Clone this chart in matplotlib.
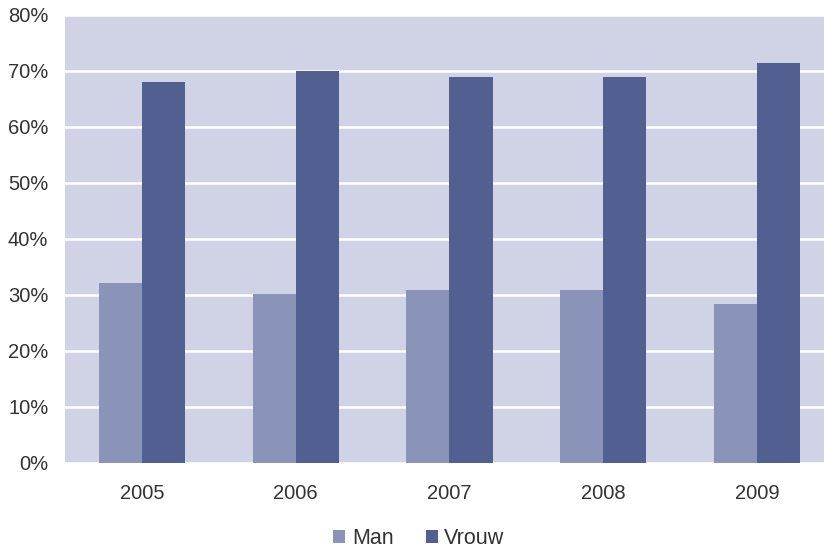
import matplotlib.pyplot as plt
import numpy as np

years = ['2005', '2006', '2007', '2008', '2009']
man = [32.1, 30.2, 30.9, 30.9, 28.4]
vrouw = [68.0, 70.0, 68.9, 68.9, 71.4]

plt.rcParams['font.family'] = ['Liberation Sans', 'DejaVu Sans']

fig = plt.figure(figsize=(8.24, 5.52), dpi=100)
# plot area runs slightly past the right edge of the image
ax = fig.add_axes([65 / 824, 1 - 463 / 552, 769 / 824, 448 / 552])
ax.set_facecolor('#D0D3E5')

x = np.arange(len(years))
w = 0.28
ax.bar(x - w / 2, man, w, color='#8A94B8', label='Man', zorder=3)
ax.bar(x + w / 2, vrouw, w, color='#516090', label='Vrouw', zorder=3)

ax.set_ylim(0, 80)
ax.set_xlim(-0.5, 4.5)
ax.set_yticks(range(0, 81, 10))
ax.set_yticklabels([f'{v}%' for v in range(0, 81, 10)])
ax.set_xticks(x)
ax.set_xticklabels(years)
ax.yaxis.grid(True, color='white', linewidth=1.8, zorder=1)
ax.tick_params(length=0, labelsize=14.5, colors='#333333')
ax.tick_params(axis='y', pad=12)
ax.tick_params(axis='x', pad=15)
for s in ax.spines.values():
    s.set_visible(False)

fig.legend(loc='center', bbox_to_anchor=(419 / 824, 1 - 539 / 552), ncol=2,
           frameon=False, fontsize=15.5, handlelength=0.56, handleheight=0.56,
           handletextpad=0.3, columnspacing=1.5, labelcolor='#333333')

fig.savefig('out.png', dpi=100)
